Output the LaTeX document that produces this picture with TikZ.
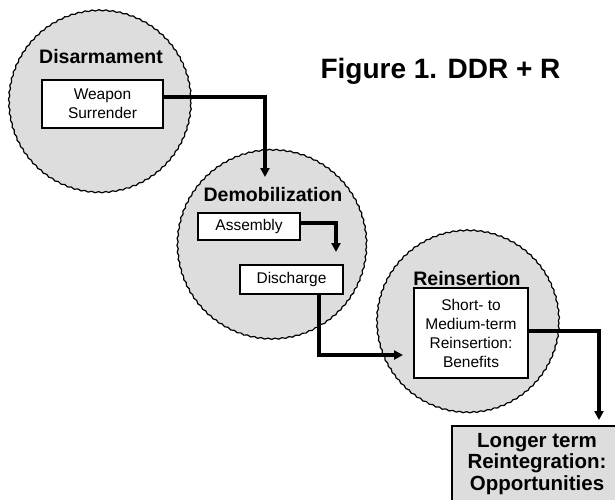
\documentclass[tikz,border=0pt]{standalone}
\usepackage{fontspec}
\setmainfont{Liberation Sans}
\usetikzlibrary{arrows.meta,decorations.pathmorphing}
\definecolor{stagegray}{RGB}{221,221,221}
\begin{document}
\begin{tikzpicture}[x=1pt,y=-1pt,
  stage/.style={circle, draw=black, line width=1.2pt, fill=stagegray, inner sep=0pt,
    minimum size=#1, decorate, decoration={snake, amplitude=0.6pt, segment length=7pt}},
  ttl/.style={anchor=base, font=\fontsize{19.5}{22}\selectfont\bfseries},
  box/.style={draw=black, line width=1.7pt, fill=white, inner sep=0pt, align=center,
    font=\fontsize{15.5}{19}\selectfont},
  arr/.style={line width=3.3pt, -{Triangle[length=9pt,width=9pt]}}]
\useasboundingbox (0,0) rectangle (615,499);
\path[clip] (0,0) rectangle (615,499);
\fill[white] (0,0) rectangle (615,499);
% stages
\node[stage=182pt] (c1) at (100,103) {};
\node[stage=189pt] (c2) at (272,246) {};
\node[stage=182pt] (c3) at (468,323) {};
% titles
\node[ttl] (t1) at (101,63) {Disarmament};
\node[ttl] (t2) at (273,201) {Demobilization};
\node[ttl] (t3) at (467,285) {Reinsertion};
\node[anchor=base, font=\fontsize{28}{32}\selectfont\bfseries] (fig) at (440.5,78) {Figure 1. DDR + R};
% boxes
\node[box, minimum width=121pt, minimum height=48pt] (wb) at (102.5,104) {Weapon\\Surrender};
\node[box, minimum width=102pt, minimum height=27pt] (ab) at (249,226.5) {Assembly};
\node[box, minimum width=103pt, minimum height=29pt] (dc) at (291.5,279.5) {Discharge};
\node[box, minimum width=114pt, minimum height=90pt] (rb) at (471,333) {Short- to\\Medium-term\\Reinsertion:\\Benefits};
\node[draw=black, line width=1.7pt, fill=stagegray, inner sep=0pt, align=center,
  minimum width=170pt, minimum height=76pt,
  font=\fontsize{20.5}{21.5}\selectfont\bfseries] (fin) at (537,464) {Longer term\\Reintegration:\\Opportunities};
% connectors
\coordinate (y1) at (0,97);
\coordinate (p1) at (265,177);
\draw[arr] (wb.east |- y1) -| (p1);
\coordinate (y2) at (0,223);
\coordinate (p2) at (336,252);
\draw[arr] (ab.east |- y2) -| (p2);
\coordinate (x3) at (319,0);
\coordinate (p3) at (403,355);
\draw[arr] (dc.south -| x3) |- (p3);
\coordinate (y4) at (0,331);
\coordinate (p4) at (599,420);
\draw[arr] (rb.east |- y4) -| (p4);
\end{tikzpicture}
\end{document}
